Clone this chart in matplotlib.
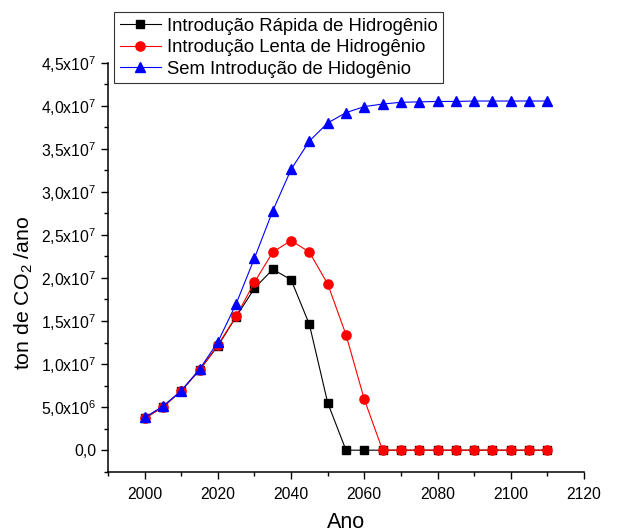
import numpy as np
import matplotlib
matplotlib.use('Agg')
import matplotlib.pyplot as plt
from matplotlib.ticker import MultipleLocator, FixedLocator

# ============================================================================
# DATA
# ============================================================================
anos = [2000, 2005, 2010, 2015, 2020, 2025, 2030, 2035, 2040, 2045, 2050, 2055,
        2060, 2065, 2070, 2075, 2080, 2085, 2090, 2095, 2100, 2105, 2110]

rapida = [3.7e6, 5.0e6, 6.9e6, 9.3e6, 1.21e7, 1.55e7, 1.88e7, 2.10e7, 1.98e7,
          1.46e7, 5.5e6, 0, 0, 0, 0, 0, 0, 0, 0, 0, 0, 0, 0]

lenta = [3.7e6, 5.0e6, 6.9e6, 9.3e6, 1.22e7, 1.555e7, 1.95e7, 2.30e7, 2.435e7,
         2.30e7, 1.93e7, 1.34e7, 5.9e6, 0, 0, 0, 0, 0, 0, 0, 0, 0, 0]

sem = [3.8e6, 5.1e6, 6.9e6, 9.4e6, 1.256e7, 1.70e7, 2.23e7, 2.78e7, 3.26e7,
       3.59e7, 3.80e7, 3.92e7, 3.99e7, 4.02e7, 4.04e7, 4.045e7, 4.05e7, 4.05e7,
       4.055e7, 4.055e7, 4.055e7, 4.055e7, 4.055e7]

labels = ['Introdução Rápida de Hidrogênio',
          'Introdução Lenta de Hidrogênio',
          'Sem Introdução de Hidogênio']

yticks = [0, 5e6, 1e7, 1.5e7, 2e7, 2.5e7, 3e7, 3.5e7, 4e7, 4.5e7]
ytick_labels = ['0,0', r'5,0x10$^{6}$', r'1,0x10$^{7}$', r'1,5x10$^{7}$',
                r'2,0x10$^{7}$', r'2,5x10$^{7}$', r'3,0x10$^{7}$',
                r'3,5x10$^{7}$', r'4,0x10$^{7}$', r'4,5x10$^{7}$']

# ============================================================================
# STYLE
# ============================================================================
plt.rcParams['font.family'] = ['Liberation Sans', 'DejaVu Sans']
plt.rcParams['mathtext.fontset'] = 'custom'
plt.rcParams['mathtext.rm'] = 'Liberation Sans'
plt.rcParams['mathtext.it'] = 'Liberation Sans'

fig = plt.figure(figsize=(6.21, 5.32), dpi=100)
ax = fig.add_axes([108 / 621, 1 - 471.7 / 532, 476 / 621, 409 / 532])

ax.plot(anos, rapida, color='black', marker='s', ms=5.6, lw=0.8, label=labels[0])
ax.plot(anos, lenta, color='red', marker='o', ms=6.6, lw=0.8, label=labels[1])
ax.plot(anos, sem, color='blue', marker='^', ms=7.4, lw=0.8, label=labels[2])

ax.set_xlim(1990, 2120)
ax.set_ylim(-2.5e6, 4.5e7)
ax.xaxis.set_major_locator(MultipleLocator(20))
ax.xaxis.set_minor_locator(MultipleLocator(10))
ax.yaxis.set_major_locator(FixedLocator(yticks))
ax.set_yticklabels(ytick_labels)
ax.yaxis.set_minor_locator(MultipleLocator(2.5e6))

for side in ['top', 'right']:
    ax.spines[side].set_visible(False)
for side in ['left', 'bottom']:
    ax.spines[side].set_linewidth(1.1)

ax.tick_params(which='major', direction='out', length=5, width=1.0, labelsize=11.3)
ax.tick_params(which='minor', direction='out', length=3, width=1.0)
ax.tick_params(axis='x', pad=6)

ax.set_xlabel('Ano', fontsize=15.5)
ax.xaxis.set_label_coords(0.5, -0.098)
ax.set_ylabel(r'ton de CO$_{2}$ /ano', fontsize=15.3, va='center')
ax.yaxis.set_label_coords(-0.176, 0.437)

leg = ax.legend(loc='upper left', bbox_to_anchor=(114 / 621, 1 - 12 / 532),
                bbox_transform=fig.transFigure, fontsize=13.3, frameon=True,
                fancybox=False, shadow=False, borderpad=0.3, labelspacing=0.25,
                handlelength=2.25, handletextpad=0.33, borderaxespad=0)
leg.get_frame().set_edgecolor('black')
leg.get_frame().set_linewidth(0.8)

fig.savefig('out.png', dpi=100)
